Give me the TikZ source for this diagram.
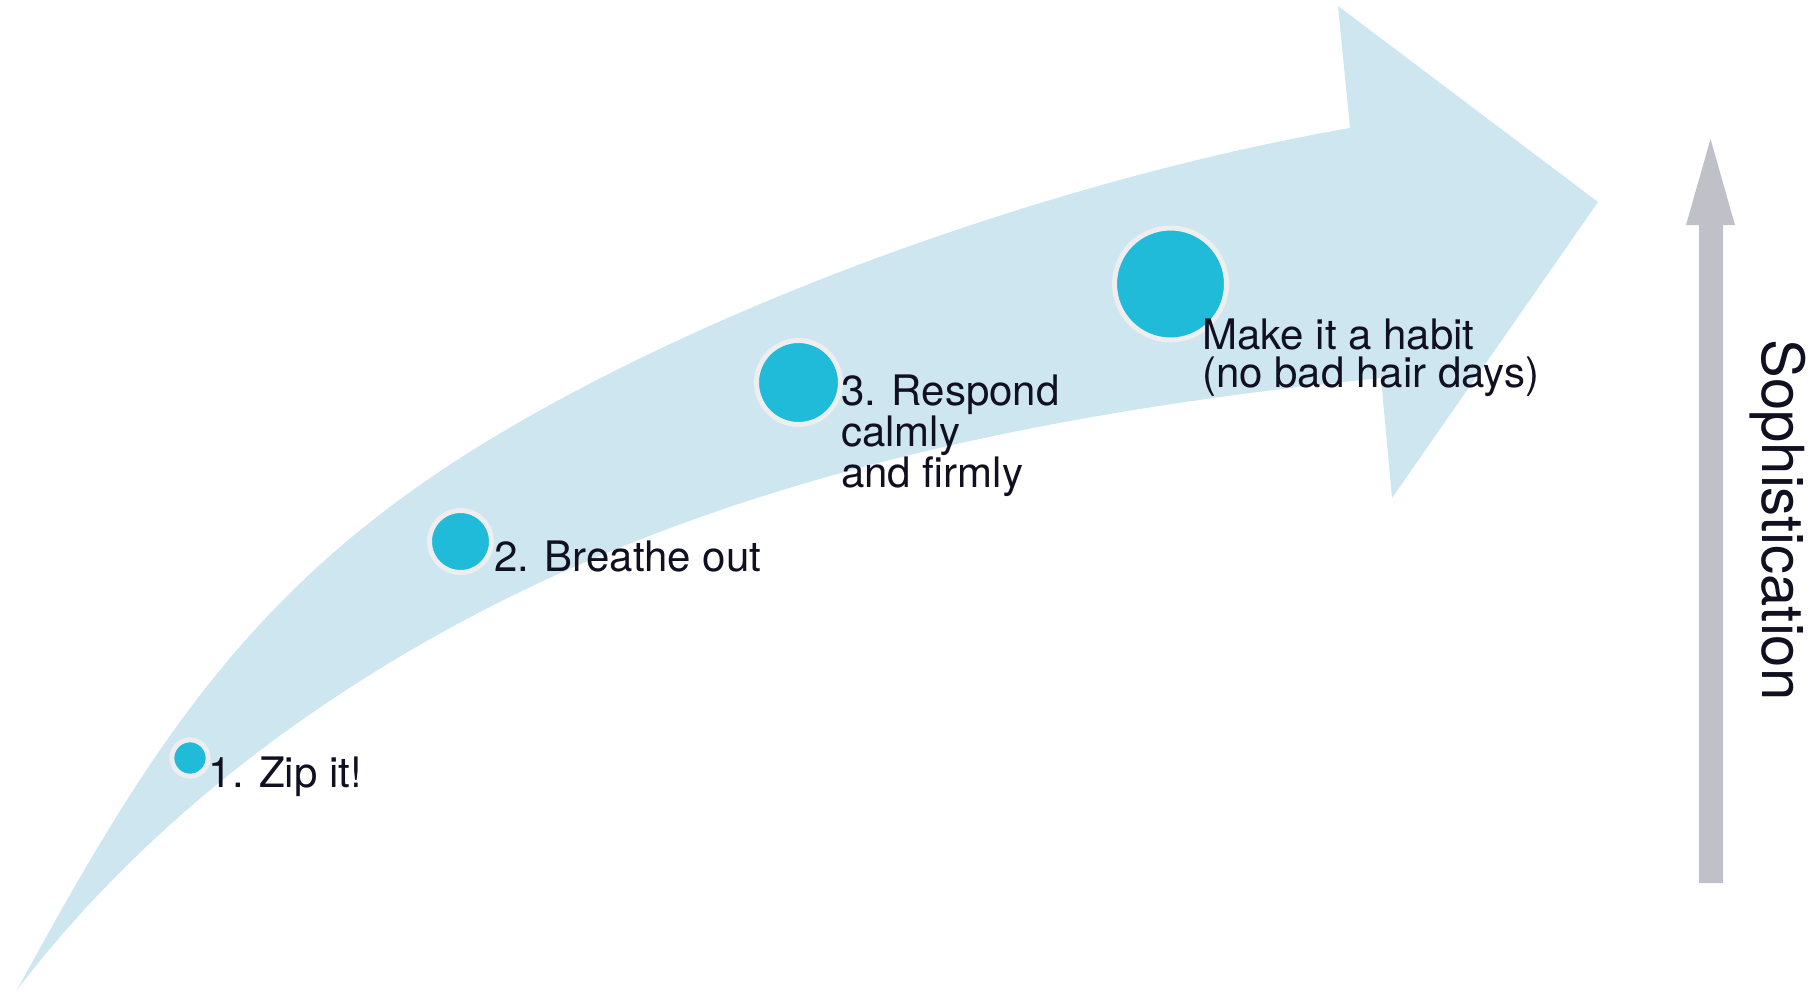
\documentclass[tikz,border=0pt]{standalone}
\usepackage{fontspec}
\setmainfont{TeX Gyre Heros}
\definecolor{flowc}{RGB}{205,230,239}
\definecolor{dotc}{RGB}{32,187,216}
\definecolor{ringc}{RGB}{238,238,241}
\definecolor{txtc}{RGB}{16,16,32}
\definecolor{axisc}{RGB}{192,192,200}
\begin{document}
\begin{tikzpicture}[x=1pt,y=-1pt,
  lbl/.style={anchor=base west,inner sep=0pt,text=txtc,font=\fontsize{42}{37.5}\selectfont,align=left},
  dot/.style={circle,fill=dotc,draw=ringc,line width=5pt,inner sep=0pt}]
\useasboundingbox (0,0) rectangle (1813,994);
% big curved arrow
\fill[flowc] (17,990) .. controls (151,744) and (254,581) .. (494,437)
  .. controls (734,293) and (1074,176) .. (1350,128)
  -- (1338,6) -- (1598,202) -- (1392,498) -- (1381,378)
  .. controls (1073,409) and (755,469) .. (480,612)
  .. controls (303,704) and (138,831) .. (17,990)
  -- cycle;
% dots
\node[dot,minimum size=36.4pt] (c1) at (190,758) {};
\node[dot,minimum size=62pt] (c2) at (460.5,541.5) {};
\node[dot,minimum size=84pt] (c3) at (798.5,382.5) {};
\node[dot,minimum size=112pt] (c4) at (1170.5,284) {};
% labels
\node[lbl] (t1) at (208.5,787) {1. Zip it!};
\node[lbl] (t2) at (494,571) {2. Breathe out};
\node[lbl] (t3) at (841,487) {3. Respond\\calmly\\and firmly};
\node[lbl] (t4) at (1202,387) {Make it a habit\\(no bad hair days)};
% sophistication axis
\fill[axisc] (1699,883) -- (1699,225) -- (1686,225) -- (1710.5,139) -- (1735,225) -- (1723,225) -- (1723,883) -- cycle;
\node[rotate=-90,anchor=base,inner sep=0pt,text=txtc,font=\fontsize{58}{58}\selectfont] (soph) at (1762,520) {Sophistication};
\end{tikzpicture}
\end{document}
